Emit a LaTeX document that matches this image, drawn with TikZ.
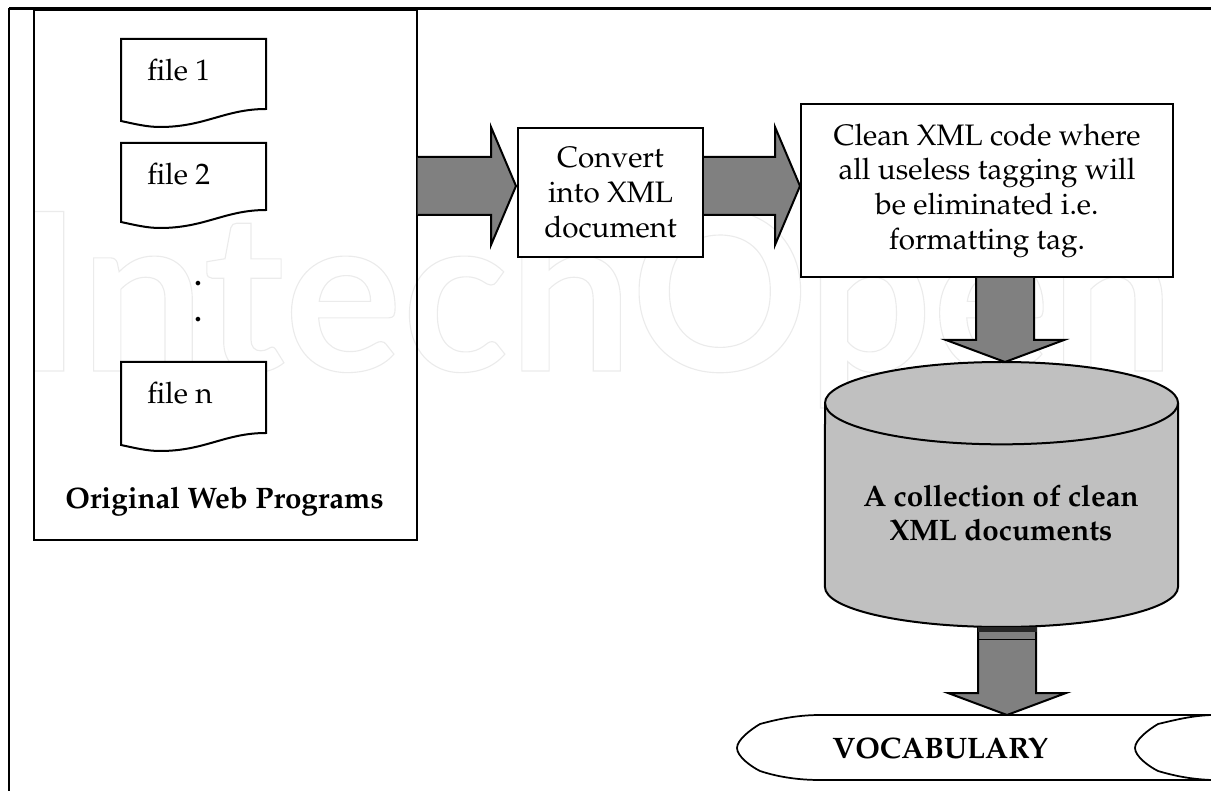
\documentclass[tikz,border=0pt]{standalone}
\usepackage{fontspec}
\newfontfamily\markfont{Lato}
\usepackage[T1]{fontenc}
\usepackage{mathpazo}
\usetikzlibrary{calc}
\definecolor{arrowgray}{HTML}{808080}
\definecolor{storegray}{HTML}{C0C0C0}
\tikzset{
   flowbox/.style={draw=black,line width=1.5pt,fill=white,align=center,
      font=\fontsize{22.2}{26}\selectfont,inner sep=0},
   flowarrow/.style={draw=black,line width=1.5pt,fill=arrowgray,line join=miter},
   plaintext/.style={inner sep=0,font=\fontsize{22.2}{26}\selectfont,align=center}
}
\newcommand{\rightblock}[2]{
   \draw[flowarrow] ($(#1)+(0,-29)$) -- ($(#2)+(-25,-29)$) -- ++(0,-30) -- (#2)
   -- ++(-25,59) -- ++(0,-30) -- ($(#1)+(0,29)$);
}
\newcommand{\downblock}[2]{
   \draw[flowarrow] ($(#1)+(-29,0)$) -- ($(#2)+(-29,-22)$) -- ++(-30,0) -- (#2)
   -- ++(59,-22) -- ++(-30,0) -- ($(#1)+(29,0)$);
}
\begin{document}
\begin{tikzpicture}[x=0.75pt,y=-0.75pt]
   \useasboundingbox (0,0) rectangle (1211,791);

   % watermark
   \node[anchor=base west,inner sep=0,text=black!8,transform shape,scale=.94]
   (mark) at (16,371)
   {\special{pdf:code 1 Tr 0.9 w}\markfont\bfseries\fontsize{176}{176}\selectfont
   IntechOpen\special{pdf:code 0 Tr}};

   \draw[line width=1.4pt] (9,791) -- (9,8.5);
   \draw[line width=2.2pt] (9,8.5) -- (1211,8.5);

   \node[flowbox,minimum width=287pt,minimum height=397.5pt,fill=none,
   anchor=north west] (programs) at (33,9) {};
   \foreach \y/\h/\t in {39/70/file 1,143/67/file 2,362/71/file n}{
      \draw[line width=1.5pt,fill=white] (121,\y) -- (266,\y) -- (266,\y+\h)
      .. controls (225,\y+\h) and (205,\y+\h+18) .. (160,\y+\h+18)
      .. controls (147,\y+\h+18) and (135,\y+\h+15) .. (121,\y+\h+12) -- cycle;
      \node[plaintext,anchor=base west] (file\y) at (147,\y+42) {\t};
   }
   \node[plaintext,anchor=base] (dotA) at (198,286) {\bfseries .};
   \node[plaintext,anchor=base] (dotB) at (198,322) {\bfseries .};
   \node[plaintext,anchor=base] (title) at (224.5,509) {\bfseries Original Web Programs};

   \node[flowbox,minimum width=138.75pt,minimum height=96.75pt,anchor=north west]
   (convert) at (517,127) {Convert\\into XML\\document};
   \node[flowbox,minimum width=279pt,minimum height=129.75pt,anchor=north west]
   (clean) at (800,103) {Clean XML code where\\all useless tagging will\\be eliminated i.e.\\formatting tag.};

   \coordinate (tipA) at (516,186);
   \coordinate (tipB) at (800,186);
   \coordinate (tipC) at (1005,362);
   \coordinate (tipD) at (1007,715);
   \coordinate (startA) at (programs.east |- tipA);
   \coordinate (startB) at (convert.east |- tipB);
   \coordinate (startC) at (clean.south -| tipC);
   \rightblock{startA}{tipA}
   \rightblock{startB}{tipB}
   \downblock{startC}{tipC}

   \draw[line width=1.5pt,fill=storegray] (825,403)
   arc[start angle=180,end angle=0,x radius=132.4pt,y radius=30.75pt]
   -- (1178,587)
   arc[start angle=0,end angle=-180,x radius=132.4pt,y radius=30pt] -- cycle;
   \draw[line width=1.5pt] (825,403)
   arc[start angle=180,end angle=360,x radius=132.4pt,y radius=31pt];
   \coordinate (storebottom) at (1001.5,627);
   \node[plaintext] (storetext) at (1001,513) {\bfseries A collection of clean\\\bfseries XML documents};

   \coordinate (startD) at (storebottom -| tipD);
   \downblock{startD}{tipD}
   % bands under the store
   \fill[black!85] (978,627) rectangle (1037,632);
   \draw[line width=1.1pt] (978,639.5) -- (1037,639.5);

   \draw[line width=1.3pt,fill=white] (1211,715) -- (820,715)
   .. controls (795,715) and (775,720) .. (760,724)
   .. controls (750,730) and (737,740) .. (737,748)
   .. controls (737,756) and (750,766) .. (760,771)
   .. controls (775,776) and (795,780) .. (820,780) -- (1211,780);
   \draw[line width=1.3pt] (1211,715)
   .. controls (1190,716) and (1175,720) .. (1158,724)
   .. controls (1148,730) and (1135,740) .. (1135,748)
   .. controls (1135,756) and (1148,766) .. (1158,771)
   .. controls (1175,776) and (1190,779) .. (1211,780);
   \node[plaintext] (vocab) at (940,748) {\bfseries VOCABULARY};
\end{tikzpicture}
\end{document}
